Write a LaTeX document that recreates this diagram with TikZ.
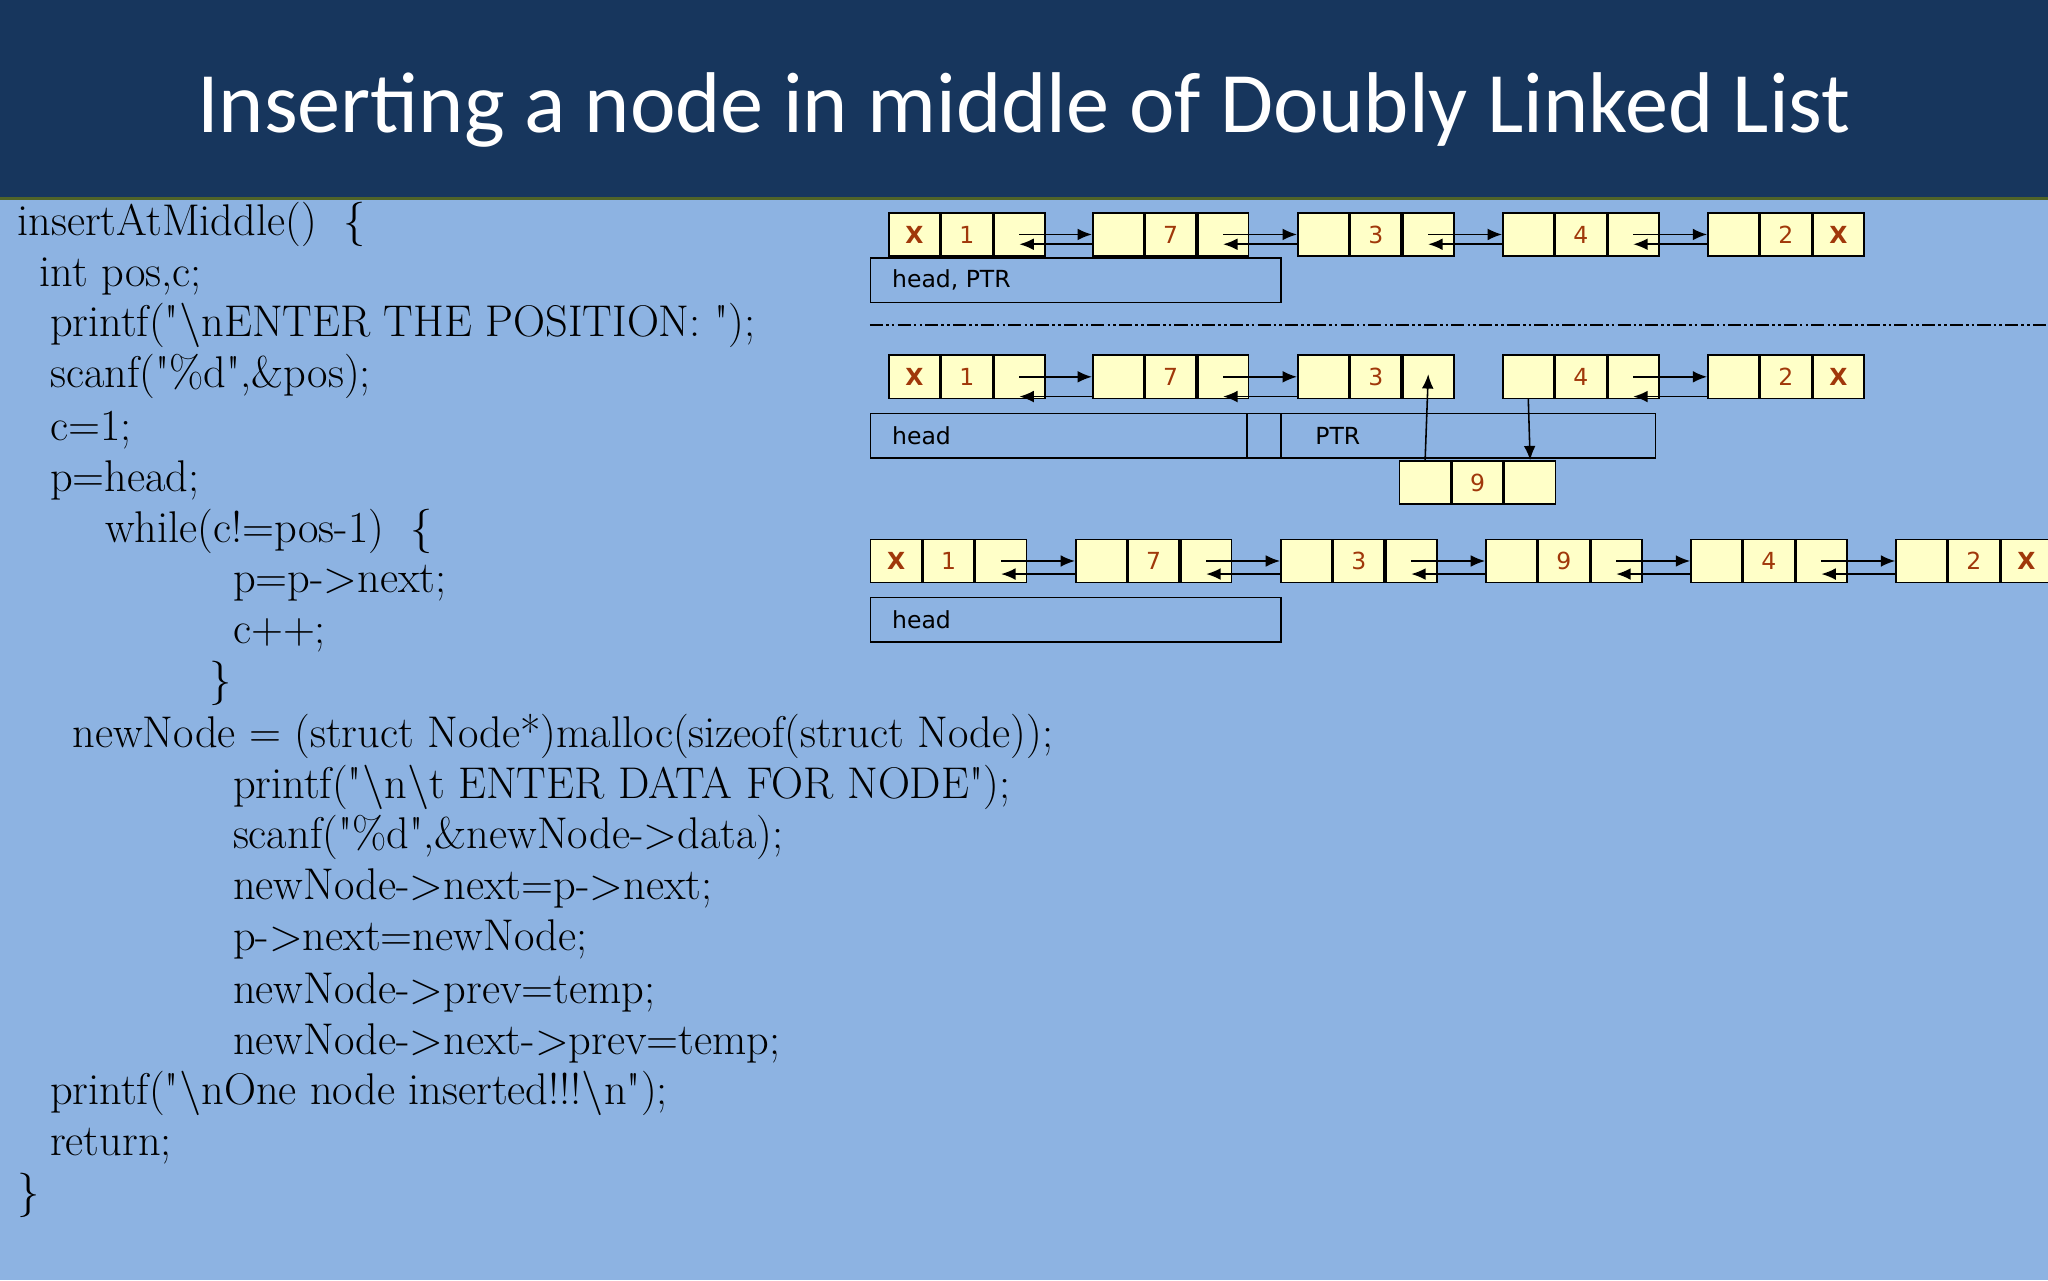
\documentclass[tikz,border=0pt]{standalone}
\usepackage{fontspec}
\newfontfamily\titlefont{Carlito}
\newfontfamily\cellfont{DejaVu Sans}
\usetikzlibrary{arrows.meta}
\definecolor{bg}{HTML}{8DB3E2}
\definecolor{titlebg}{HTML}{17365D}
\definecolor{cellfill}{HTML}{FFFFC8}
\definecolor{numcol}{HTML}{A0380A}
\newcommand{\dq}{\textquotedbl}
\tikzset{
 cell/.style={draw=black,fill=cellfill,line width=0.6pt,minimum width=19.5pt,minimum height=16.5pt,inner sep=0pt,font=\cellfont\fontsize{9}{10}\selectfont,text=numcol},
 lbox/.style={draw=black,line width=0.6pt,minimum height=17pt,inner sep=0pt},
 lbl/.style={anchor=west,font=\cellfont\fontsize{9}{10}\selectfont},
 code/.style={anchor=base west,font=\fontsize{17}{19}\selectfont,inner sep=0pt},
 arr/.style={-{Latex[length=5.5pt,width=4.5pt]},line width=0.6pt},
}
% \dnode{name}{x of left edge}{y center}{a}{b}{c}
\newcommand{\dnode}[6]{%
 \node[cell,anchor=west] (#1-a) at (#2,#3) {#4};
 \node[cell,anchor=west] (#1-b) at (#1-a.east) {#5};
 \node[cell,anchor=west] (#1-c) at (#1-b.east) {#6};}
\begin{document}
\begin{tikzpicture}[x=0.5pt,y=-0.5pt]
\useasboundingbox (0,0) rectangle (1568,980);
\fill[bg] (0,0) rectangle (1568,980);
\fill[titlebg] (0,0) rectangle (1568,152);
\draw[draw={rgb,255:red,80;green,100;blue,40},line width=1pt] (0,152) -- (1568,152);
\node[text=white,font=\titlefont\fontsize{33}{36}\selectfont] (title) at (784,84) {Inserting a node in middle of Doubly Linked List};
% code
\node[code] (c1) at (13,180) {insertAtMiddle()\ \ \{};
\node[code] (c2) at (30,219) {int pos,c;};
\node[code] (c3) at (38,258) {printf(\dq\textbackslash nENTER THE POSITION: \dq);};
\node[code] (c4) at (38,297) {scanf(\dq\%d\dq,\&pos);};
\node[code] (c5) at (38,337) {c=1;};
\node[code] (c6) at (38,376) {p=head;};
\node[code] (c7) at (80,415) {while(c!=pos-1)\ \ \{};
\node[code] (c8) at (178,454) {p=p->next;};
\node[code] (c9) at (178,493) {c++;};
\node[code] (c10) at (160,532) {\}};
\node[code] (c11) at (55,572) {newNode = (struct Node*)malloc(sizeof(struct Node));};
\node[code] (c12) at (178,611) {printf(\dq\textbackslash n\textbackslash t ENTER DATA FOR NODE\dq);};
\node[code] (c13) at (178,650) {scanf(\dq\%d\dq,\&newNode->data);};
\node[code] (c14) at (178,689) {newNode->next=p->next;};
\node[code] (c15) at (178,728) {p->next=newNode;};
\node[code] (c16) at (178,768) {newNode->prev=temp;};
\node[code] (c17) at (178,807) {newNode->next->prev=temp;};
\node[code] (c18) at (38,846) {printf(\dq\textbackslash nOne node inserted!!!\textbackslash n\dq);};
\node[code] (c19) at (38,885) {return;};
\node[code] (c20) at (13,924) {\}};
% row 1
\dnode{a1}{680}{179.5}{\textbf{X}}{1}{}
\dnode{a2}{836}{179.5}{}{7}{}
\dnode{a3}{993}{179.5}{}{3}{}
\dnode{a4}{1150}{179.5}{}{4}{}
\dnode{a5}{1307}{179.5}{}{2}{\textbf{X}}
\foreach \p/\q in {a1/a2,a2/a3,a3/a4,a4/a5}{
 \draw[arr] (\p-c.center) -- (\q-a.west);
 \draw[arr] ([yshift=-3.75pt]\q-a.west) -- ([yshift=-3.75pt]\p-c.center);}
\node[lbox,minimum width=157pt,anchor=north west] (hb1) at (666,197) {};
\node[lbl] (hb1t) at ([xshift=5pt]hb1.west) {head, PTR};
% separator
\coordinate (sepL) at (666,249);
\coordinate (sepR) at (1568,249);
\draw[line width=0.6pt,dash pattern=on 5pt off 1.2pt on 1pt off 1.2pt on 1pt off 1.2pt] (sepL) -- (sepR);
% row 2
\dnode{b1}{680}{288.5}{\textbf{X}}{1}{}
\dnode{b2}{836}{288.5}{}{7}{}
\dnode{b3}{993}{288.5}{}{3}{}
\dnode{b4}{1150}{288.5}{}{4}{}
\dnode{b5}{1307}{288.5}{}{2}{\textbf{X}}
\foreach \p/\q in {b1/b2,b2/b3,b4/b5}{
 \draw[arr] (\p-c.center) -- (\q-a.west);
 \draw[arr] ([yshift=1pt]\q-a.south west) -- ([yshift=1pt]\p-c.south);}
\node[lbox,minimum width=144pt,anchor=north west] (hb2) at (666,316) {};
\node[lbox,minimum width=13pt,anchor=north west] (hb2s) at (954,316) {};
\node[lbox,minimum width=143.5pt,anchor=north west] (hb2p) at (980,316) {};
\node[lbl] (hb2t) at ([xshift=5pt]hb2.west) {head};
\node[lbl] (hb2pt) at ([xshift=10pt]hb2p.west) {PTR};
\dnode{n9}{1071}{369.5}{}{9}{}
\draw[arr] (n9-a.north) -- ([yshift=1pt]b3-c.center);
\draw[arr] (b4-a.south) -- (n9-c.north);
% row 3
\dnode{d1}{666}{429.5}{\textbf{X}}{1}{}
\dnode{d2}{823}{429.5}{}{7}{}
\dnode{d3}{980}{429.5}{}{3}{}
\dnode{d4}{1137}{429.5}{}{9}{}
\dnode{d5}{1294}{429.5}{}{4}{}
\dnode{d6}{1451}{429.5}{}{2}{\textbf{X}}
\foreach \p/\q in {d1/d2,d2/d3,d3/d4,d4/d5,d5/d6}{
 \draw[arr] (\p-c.center) -- (\q-a.west);
 \draw[arr] ([yshift=-5pt]\q-a.west) -- ([yshift=-5pt]\p-c.center);}
\node[lbox,minimum width=157pt,anchor=north west] (hb3) at (666,457) {};
\node[lbl] (hb3t) at ([xshift=5pt]hb3.west) {head};
\end{tikzpicture}
\end{document}
